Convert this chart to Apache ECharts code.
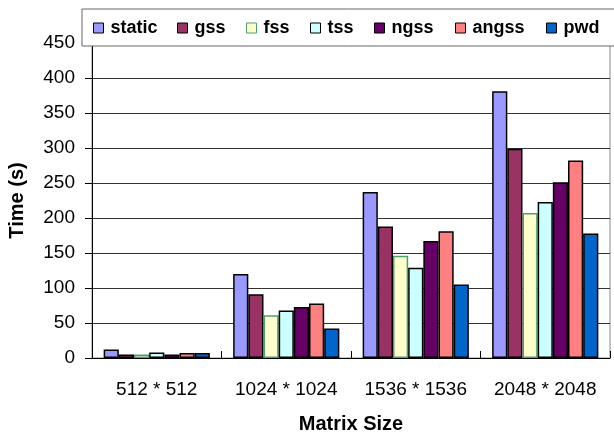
<!DOCTYPE html>
<html>
<head>
<meta charset="utf-8">
<script src="https://cdn.jsdelivr.net/npm/echarts@6/dist/echarts.min.js"></script>
<style>
  html, body { margin: 0; padding: 0; background: #fff; }
  #chart { width: 614px; height: 434px; }
</style>
</head>
<body>
<div id="chart"></div>
<script>
// Matrix sizes on the x axis
const categories = ['512 * 512', '1024 * 1024', '1536 * 1536', '2048 * 2048'];

// Execution time (s) per scheduling scheme
const staticTimes = [12, 120, 237, 381];
const gssTimes    = [5, 91, 188, 299];
const fssTimes    = [5, 61, 146, 207];
const tssTimes    = [8, 68, 129, 223];
const ngssTimes   = [5, 73, 167, 251];
const angssTimes  = [7, 78, 181, 282];
const pwdTimes    = [7, 42, 105, 178];

const seriesNames = ['static', 'gss', 'fss', 'tss', 'ngss', 'angss', 'pwd'];
const seriesData  = [staticTimes, gssTimes, fssTimes, tssTimes, ngssTimes, angssTimes, pwdTimes];
const fills   = ['#9999FF', '#993366', '#FFFFCC', '#CCFFFF', '#660066', '#FF8080', '#0066CC'];
const borders = ['#000', '#000', '#4CA070', '#000', '#000', '#000', '#000'];
const legendLeft = [93, 177, 246, 310, 374, 455, 546];

const FONT = '"Liberation Sans", Arial, sans-serif';

const chart = echarts.init(document.getElementById('chart'), null, { renderer: 'canvas' });

const series = seriesNames.map((name, i) => ({
  name,
  type: 'bar',
  data: seriesData[i],
  barGap: '0%',
  barCategoryGap: '18%',
  itemStyle: { color: fills[i], borderColor: borders[i], borderWidth: 1.5 },
  emphasis: { disabled: true },
  animation: false
}));

const legends = seriesNames.map((name, i) => ({
  data: [name],
  left: legendLeft[i],
  top: 18,
  padding: 0,
  z: 20,
  itemWidth: 10,
  itemHeight: 10,
  itemGap: 0,
  icon: 'rect',
  itemStyle: { borderColor: borders[i], borderWidth: 1 },
  textStyle: { fontFamily: FONT, fontSize: 18, fontWeight: 'bold', color: '#000', lineHeight: 20, padding: [0, 0, 0, 2] },
  selectedMode: false
}));

chart.setOption({
  backgroundColor: '#fff',
  animation: false,
  grid: {
    left: 92, right: 4, top: 43, bottom: 76,
    outerBoundsMode: 'none',
    containLabel: false,
    show: true, borderColor: '#888', borderWidth: 1, backgroundColor: 'transparent'
  },
  graphic: [{
    type: 'rect',
    z: 10,
    shape: { x: 82, y: 9, width: 560, height: 37 },
    style: { fill: '#fff', stroke: '#666', lineWidth: 1 }
  }],
  legend: legends,
  xAxis: {
    type: 'category',
    data: categories,
    name: 'Matrix Size',
    nameLocation: 'middle',
    nameGap: 56,
    nameTextStyle: { fontFamily: FONT, fontSize: 20, fontWeight: 'bold', color: '#000' },
    axisLine: { lineStyle: { color: '#000', width: 1 } },
    axisTick: { show: true, inside: true, length: 7, lineStyle: { color: '#000' } },
    axisLabel: { interval: 0, fontFamily: FONT, fontSize: 19, color: '#000', margin: 22 },
    splitLine: { show: false }
  },
  yAxis: {
    type: 'value',
    min: 0, max: 450, interval: 50,
    name: 'Time (s)',
    nameLocation: 'middle',
    nameGap: 65,
    nameRotate: 90,
    nameTextStyle: { fontFamily: FONT, fontSize: 20, fontWeight: 'bold', color: '#000' },
    axisLine: { show: true, lineStyle: { color: '#000', width: 1 } },
    axisTick: { show: true, length: 7, lineStyle: { color: '#000' } },
    axisLabel: { fontFamily: FONT, fontSize: 19, color: '#000', margin: 17 },
    splitLine: { show: true, lineStyle: { color: '#333', width: 1 } }
  },
  series
});
</script>
</body>
</html>
